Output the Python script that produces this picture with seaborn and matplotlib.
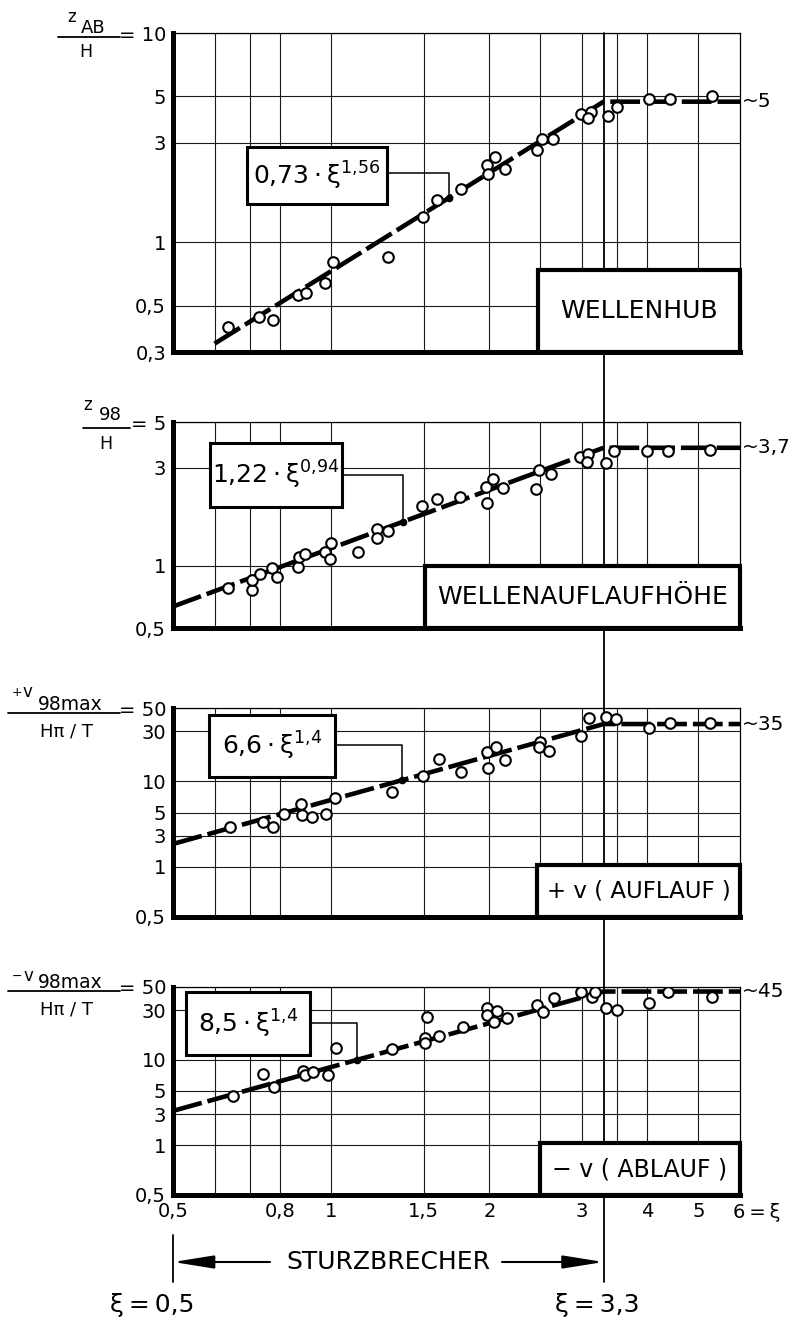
import numpy as np
import matplotlib
matplotlib.use("Agg")
import matplotlib.pyplot as plt
import matplotlib.transforms as mtransforms
from matplotlib.lines import Line2D
from matplotlib.patches import Rectangle
from matplotlib.ticker import FixedLocator, FixedFormatter, NullLocator
import seaborn as sns

sns.set_style("white")
plt.rcParams["font.family"] = ["DejaVu Sans"]
plt.rcParams["mathtext.fontset"] = "dejavusans"
for key in ("text.color", "axes.labelcolor", "xtick.color", "ytick.color", "axes.edgecolor"):
    plt.rcParams[key] = "black"

# ---- x axis: Brecherkennzahl xi ----
xi_ticks = [0.5, 0.6, 0.7, 0.8, 1.0, 1.5, 2.0, 2.5, 3.0, 3.5, 4.0, 5.0]
xi_tick_labels = ["0,5", "", "", "0,8", "1", "1,5", "2", "", "3", "", "4", "5"]
xi_min, xi_max = 0.5, 6.0
xi_plunging = 3.3  # upper limit of plunging breakers

# ---- Wellenhub z_AB / H ----
hub_xi = [0.636, 0.729, 0.775, 0.865, 0.896, 0.973, 1.008, 1.283, 1.495, 1.59,
          1.766, 1.98, 2.05, 1.99, 2.14, 2.46, 2.52, 2.64, 2.99, 3.12, 3.08,
          3.36, 3.5, 4.03, 4.41, 5.3]
hub_val = [0.395, 0.441, 0.427, 0.562, 0.574, 0.641, 0.807, 0.853, 1.32, 1.60,
           1.80, 2.34, 2.56, 2.12, 2.24, 2.76, 3.12, 3.12, 4.11, 4.20, 3.93,
           4.02, 4.43, 4.84, 4.84, 5.0]

# ---- Wellenauflaufhoehe z_98 / H ----
runup_xi = [0.636, 0.707, 0.707, 0.732, 0.77, 0.789, 0.865, 0.87, 0.893, 0.973,
            0.997, 1.0, 1.125, 1.22, 1.22, 1.283, 1.49, 1.59, 1.76, 1.97, 2.03,
            1.98, 2.12, 2.49, 2.45, 2.62, 2.97, 3.08, 3.07, 3.33, 3.45, 4.0,
            4.38, 5.26]
runup_val = [0.78, 0.765, 0.855, 0.914, 0.977, 0.885, 0.989, 1.106, 1.14, 1.17,
             1.08, 1.29, 1.17, 1.52, 1.36, 1.48, 1.955, 2.11, 2.16, 2.42, 2.64,
             2.02, 2.39, 2.92, 2.37, 2.8, 3.38, 3.5, 3.2, 3.16, 3.61, 3.6,
             3.61, 3.65]

# ---- +v_98max / (H pi / T), Auflauf ----
vup_xi = [0.642, 0.741, 0.775, 0.813, 0.877, 0.88, 0.919, 0.976, 1.015, 1.305,
          1.495, 1.605, 1.77, 1.98, 2.06, 1.99, 2.14, 2.5, 2.49, 2.6, 2.99,
          3.1, 3.34, 3.48, 4.03, 4.42, 5.25]
vup_val = [3.63, 4.05, 3.63, 4.84, 6.03, 4.73, 4.53, 4.84, 6.88, 7.85,
           11.2, 16.25, 12.2, 18.97, 21.2, 13.3, 15.9, 23.7, 21.2, 19.4, 27.0,
           40.1, 41.0, 39.3, 32.2, 35.9, 35.9]

# ---- -v_98max / (H pi / T), Ablauf ----
vdown_xi = [0.65, 0.741, 0.78, 0.884, 0.89, 0.922, 0.985, 1.02, 1.305, 1.52,
            1.51, 1.51, 1.605, 1.78, 1.98, 2.07, 1.98, 2.04, 2.16, 2.47, 2.53,
            2.66, 2.99, 3.13, 3.18, 3.34, 3.5, 4.03, 4.38, 5.3]
vdown_val = [4.43, 7.36, 5.52, 7.85, 7.19, 7.69, 7.19, 13.0, 12.8, 25.8,
             16.3, 14.6, 17.0, 20.7, 31.5, 29.5, 27.0, 23.1, 25.2, 33.6, 28.8,
             39.3, 44.8, 40.1, 44.8, 31.5, 30.1, 35.1, 44.8, 40.1]

# fitted curves a * xi^b, constant beyond xi = 3.3
fit_a = [0.73, 1.22, 6.6, 8.5]
fit_b = [1.56, 0.94, 1.4, 1.4]
fit_a_labels = ["0{,}73", "1{,}22", "6{,}6", "8{,}5"]
fit_b_labels = ["1{,}56", "0{,}94", "1{,}4", "1{,}4"]
fit_start = [0.6, 0.5, 0.5, 0.5]
plateau_labels = ["~5", "~3,7", "~35", "~45"]
panel_titles = ["WELLENHUB", "WELLENAUFLAUFHÖHE", "+ v ( AUFLAUF )", "− v ( ABLAUF )"]
panel_title_sizes = [18, 18, 16.5, 17]

y_limits = [(0.3, 10), (0.5, 5), (0.5, 50), (0.5, 50)]
y_ticks = [[0.3, 0.5, 1, 3, 5, 10],
           [0.5, 1, 3, 5],
           [0.5, 1, 3, 5, 10, 30, 50],
           [0.5, 1, 3, 5, 10, 30, 50]]
y_tick_labels = [["0,3", "0,5", "1", "3", "5", "= 10"],
                 ["0,5", "1", "3", "= 5"],
                 ["0,5", "1", "3", "5", "10", "30", "= 50"],
                 ["0,5", "1", "3", "5", "10", "30", "= 50"]]

panel_data = [(hub_xi, hub_val), (runup_xi, runup_val),
              (vup_xi, vup_val), (vdown_xi, vdown_val)]

# ---- layout (figure pixels, measured from top-left) ----
W, H = 795, 1323
AX_LEFT, AX_RIGHT = 173, 740
panel_rows = [(33, 352), (422, 628), (708, 917), (987, 1195)]
# formula box: x0, y0, width, height in axes fraction
formula_boxes = [(0.1305, 0.464, 0.247, 0.179),
                 (0.065, 0.587, 0.233, 0.311),
                 (0.0635, 0.670, 0.2225, 0.297),
                 (0.023, 0.673, 0.219, 0.303)]
# leader: height of horizontal run (axes fraction), xi where it meets the curve
leaders = [(0.561, 1.675), (0.743, 1.37), (0.823, 1.365), (0.827, 1.12)]
# title box: left edge and top edge in axes fraction
title_boxes = [(0.644, 0.257), (0.444, 0.301), (0.642, 0.249), (0.647, 0.25)]


# value axis of the velocity panels: logarithmic from 2 upwards, with the
# 0,5-2 band divided as it is printed on the chart
LOG_IN = np.log10([0.5, 1.0, 2.0, 50.0])
LOG_OUT = np.array([np.log10(0.5), np.log10(0.5) + 0.48, np.log10(2.0), np.log10(50.0)])


def _piecewise(t, xs, ys):
    t = np.asarray(t, dtype=float)
    out = np.interp(t, xs, ys)
    out = np.where(t < xs[0], ys[0] + (t - xs[0]), out)
    out = np.where(t > xs[-1], ys[-1] + (t - xs[-1]), out)
    return out


def v_forward(v):
    v = np.asarray(v, dtype=float)
    return _piecewise(np.log10(np.maximum(v, 1e-9)), LOG_IN, LOG_OUT)


def v_inverse(u):
    return 10.0 ** _piecewise(u, LOG_OUT, LOG_IN)


fig = plt.figure(figsize=(W / 100, H / 100), dpi=100)
px = mtransforms.Affine2D().scale(1 / W, -1 / H).translate(0, 1) + fig.transFigure

axes = []
for i, (top, bot) in enumerate(panel_rows):
    ax = fig.add_axes([AX_LEFT / W, 1 - bot / H, (AX_RIGHT - AX_LEFT) / W, (bot - top) / H])
    ax.set_facecolor("none")
    ax.set_xscale("log")
    if i >= 2:
        ax.set_yscale("function", functions=(v_forward, v_inverse))
    else:
        ax.set_yscale("log")

    xs_d, ys_d = panel_data[i]
    a, b = fit_a[i], fit_b[i]
    curve_x = np.append(np.geomspace(fit_start[i], xi_plunging, 80), xi_max)
    curve_y = a * np.minimum(curve_x, xi_plunging) ** b
    sns.lineplot(x=curve_x, y=curve_y, ax=ax, color="black", lw=3.3,
                 linestyle=(0, (6.5, 1.3)), zorder=3, sort=False)
    sns.scatterplot(x=xs_d, y=ys_d, ax=ax, s=58, color="white", edgecolor="black",
                    linewidth=1.5, zorder=4, legend=False)

    ax.set_xlim(xi_min, xi_max)
    ax.set_ylim(*y_limits[i])
    ax.xaxis.set_major_locator(FixedLocator(xi_ticks))
    ax.xaxis.set_major_formatter(FixedFormatter(xi_tick_labels))
    ax.xaxis.set_minor_locator(NullLocator())
    ax.yaxis.set_major_locator(FixedLocator(y_ticks[i]))
    ax.yaxis.set_major_formatter(FixedFormatter(y_tick_labels[i]))
    ax.yaxis.set_minor_locator(NullLocator())
    ax.grid(True, which="major", color="#1a1a1a", lw=0.8)
    ax.set_axisbelow(True)
    ax.tick_params(length=0, labelsize=14, pad=5, colors="black")
    ax.tick_params(axis="x", labelbottom=(i == 3))
    ax.set_xlabel("")
    ax.set_ylabel("")
    for side in ("left", "bottom"):
        ax.spines[side].set_linewidth(3.6)
        ax.spines[side].set_color("black")
    for side in ("top", "right"):
        ax.spines[side].set_linewidth(0.9)
        ax.spines[side].set_color("black")

    # formula box with leader to the curve
    fx0, fy0, fw, fh = formula_boxes[i]
    ax.add_patch(Rectangle((fx0, fy0), fw, fh, transform=ax.transAxes,
                           facecolor="white", edgecolor="black", lw=2.2,
                           zorder=6, clip_on=False))
    ax.text(fx0 + fw / 2, fy0 + fh / 2,
            r"$\mathregular{%s\cdot ξ^{%s}}$" % (fit_a_labels[i], fit_b_labels[i]),
            transform=ax.transAxes, ha="center", va="center", fontsize=18,
            color="black", zorder=7)
    ly, lxi = leaders[i]
    ax.annotate("", xy=(lxi, a * lxi ** b), xycoords="data",
                xytext=(fx0 + fw, ly), textcoords="axes fraction",
                arrowprops=dict(arrowstyle="-", color="black", lw=1.1,
                                shrinkA=0, shrinkB=0,
                                connectionstyle="angle,angleA=0,angleB=90,rad=0"),
                zorder=5)
    ax.plot([lxi], [a * lxi ** b], marker="o", ms=4.5, color="black", zorder=5)

    # panel title box in the lower right corner
    tx0, ttop = title_boxes[i]
    ax.add_patch(Rectangle((tx0, 0), 1 - tx0, ttop, transform=ax.transAxes,
                           facecolor="white", edgecolor="black", lw=3.0,
                           zorder=6, clip_on=False))
    ax.text((tx0 + 1) / 2, ttop / 2, panel_titles[i], transform=ax.transAxes,
            ha="center", va="center", fontsize=panel_title_sizes[i],
            color="black", zorder=7)

    # limiting value on the right
    ax.annotate(plateau_labels[i], xy=(1, a * xi_plunging ** b),
                xycoords=("axes fraction", "data"), xytext=(1.5, 0),
                textcoords="offset points", ha="left", va="center",
                fontsize=14.5, color="black")
    axes.append(ax)

ax4 = axes[3]
ax4.annotate("6\u2009=\u2009ξ", xy=(xi_max, 0), xycoords=("data", "axes fraction"),
             xytext=(-5, -5.5), textcoords="offset points", ha="left", va="top",
             fontsize=14, color="black")

# ---- quotient labels left of the value axes ----
frac_texts = [
    [("z", 72, 17, 12), ("AB", 93, 28, 13), ("H", 86, 52, 12.5)],
    [("z", 88, 405, 12), ("98", 110, 415, 13), ("H", 106, 444, 12.5)],
    [("+", 17, 693, 9), ("v", 27, 692, 12), ("98max", 70, 704, 13.5), ("Hπ / T", 66, 732, 13)],
    [("−", 17, 976, 9), ("v", 28, 976, 12), ("98max", 70, 983, 13.5), ("Hπ / T", 66, 1010, 13)],
]
frac_lines = [(58, 120, 37), (83, 130, 428), (8, 120, 713), (8, 120, 991)]
for texts, (lx0, lx1, lyy) in zip(frac_texts, frac_lines):
    for s, x, y, fs in texts:
        fig.text(x, y, s, transform=px, ha="center", va="center", fontsize=fs, color="black")
    fig.add_artist(Line2D([lx0, lx1], [lyy, lyy], transform=px, color="black", lw=1.3))

# ---- plunging-breaker range ----
blend = mtransforms.blended_transform_factory(ax4.transData, px)
fig.add_artist(Line2D([xi_plunging, xi_plunging], [33, 1282], transform=blend,
                      color="black", lw=1.3, zorder=-1))
fig.add_artist(Line2D([xi_min, xi_min], [1235, 1282], transform=blend,
                      color="black", lw=1.3))
arrow_kw = dict(arrowstyle="-|>,head_length=1.25,head_width=0.2", mutation_scale=20,
                lw=1.5, color="black", shrinkA=0, shrinkB=0)
ax4.annotate("", xy=(xi_min, 1262), xycoords=blend, xytext=(270, 1262),
             textcoords=px, arrowprops=arrow_kw, annotation_clip=False)
ax4.annotate("", xy=(xi_plunging, 1262), xycoords=blend, xytext=(502, 1262),
             textcoords=px, arrowprops=arrow_kw, annotation_clip=False)
ax4.text(np.sqrt(xi_min * xi_plunging), 1262, "STURZBRECHER", transform=blend,
         ha="center", va="center", fontsize=18, color="black")
fig.text(152, 1305, "ξ\u2009=\u20090,5", transform=px, ha="center", va="center",
         fontsize=18, color="black")
fig.text(597, 1305, "ξ\u2009=\u20093,3", transform=px, ha="center", va="center",
         fontsize=18, color="black")

fig.savefig("out.png", dpi=100, facecolor="white")
